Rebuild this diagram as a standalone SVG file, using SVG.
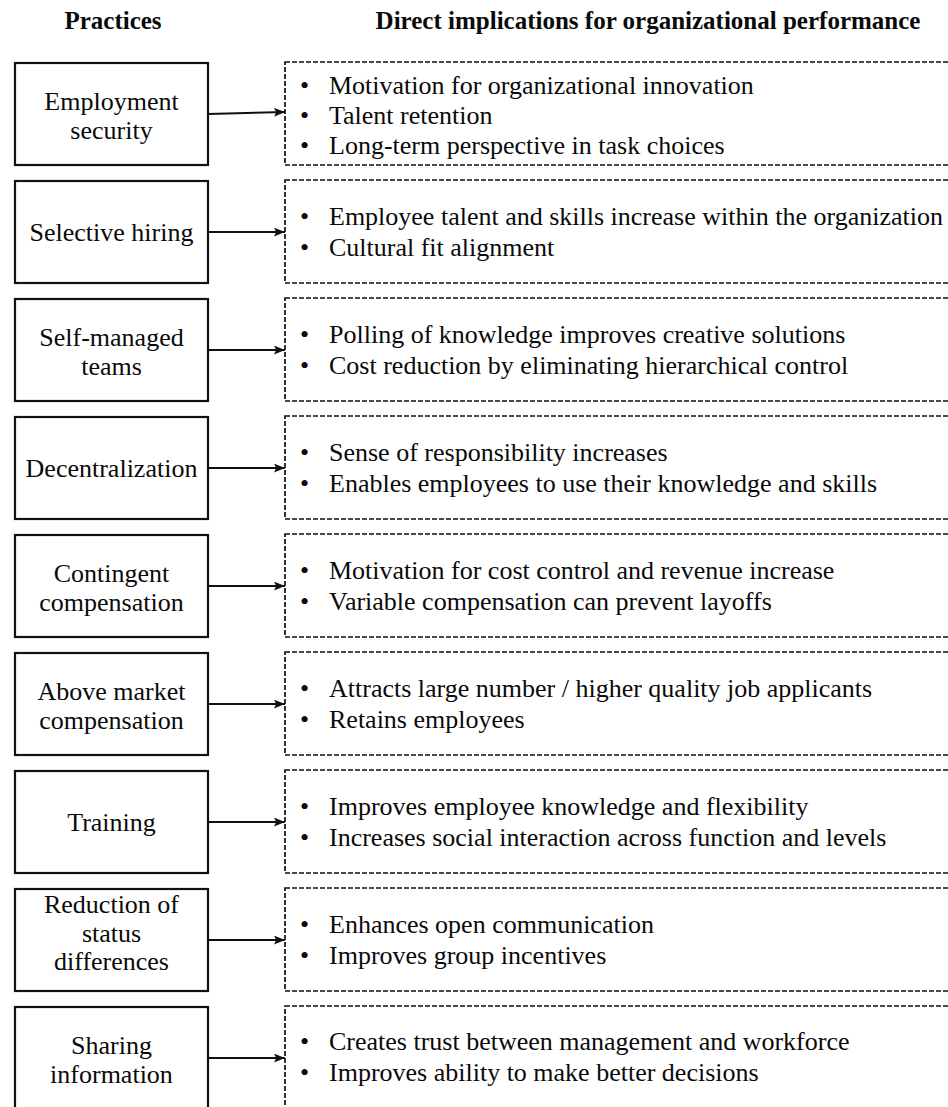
<svg xmlns="http://www.w3.org/2000/svg" width="948" height="1107" viewBox="0 0 948 1107">
  <style>
    text { font-family: "Liberation Serif", "Times New Roman", serif; fill: #0a0a0a; }
    .hdr { font-size: 25px; font-weight: bold; text-anchor: middle; }
    .lbl { font-size: 26px; text-anchor: middle; }
    .itm { font-size: 26px; }
    .box { fill: #fff; stroke: #111; stroke-width: 2.2; }
    .dsh { fill: none; stroke: #111; stroke-width: 1.7; stroke-dasharray: 5 2; }
    .con { stroke: #111; stroke-width: 2; fill: none; marker-end: url(#ah); }
  </style>
  <defs>
    <marker id="ah" viewBox="0 0 10 8" refX="10" refY="4" markerWidth="11" markerHeight="9" markerUnits="userSpaceOnUse" orient="auto">
      <path d="M0,0 L10,4 L0,8 L2,4 Z" fill="#111"/>
    </marker>
  </defs>
  <rect width="948" height="1107" fill="#fff"/>

  <g id="headers">
    <text class="hdr" x="113" y="29">Practices</text>
    <text class="hdr" x="648" y="29">Direct implications for organizational performance</text>
  </g>

  <!-- practice boxes on the left, implication lists on the right -->
  <g id="employment-security">
    <rect class="box" x="15" y="63" width="193" height="102"/>
    <text class="lbl" x="111.5" y="110">Employment</text>
    <text class="lbl" x="111.5" y="139">security</text>
    <rect class="dsh" x="285" y="62" width="700" height="103"/>
    <text class="itm" x="300" y="94">•</text><text class="itm" x="329" y="94">Motivation for organizational innovation</text>
    <text class="itm" x="300" y="124">•</text><text class="itm" x="329" y="124">Talent retention</text>
    <text class="itm" x="300" y="154">•</text><text class="itm" x="329" y="154">Long-term perspective in task choices</text>
  </g>

  <g id="selective-hiring">
    <rect class="box" x="15" y="181" width="193" height="102"/>
    <text class="lbl" x="111.5" y="241">Selective hiring</text>
    <rect class="dsh" x="285" y="180" width="700" height="103"/>
    <text class="itm" x="300" y="225">•</text><text class="itm" x="329" y="225">Employee talent and skills increase within the organization</text>
    <text class="itm" x="300" y="256">•</text><text class="itm" x="329" y="256">Cultural fit alignment</text>
  </g>

  <g id="self-managed-teams">
    <rect class="box" x="15" y="299" width="193" height="102"/>
    <text class="lbl" x="111.5" y="346">Self-managed</text>
    <text class="lbl" x="111.5" y="375">teams</text>
    <rect class="dsh" x="285" y="298" width="700" height="103"/>
    <text class="itm" x="300" y="343">•</text><text class="itm" x="329" y="343">Polling of knowledge improves creative solutions</text>
    <text class="itm" x="300" y="374">•</text><text class="itm" x="329" y="374">Cost reduction by eliminating hierarchical control</text>
  </g>

  <g id="decentralization">
    <rect class="box" x="15" y="417" width="193" height="102"/>
    <text class="lbl" x="111.5" y="477">Decentralization</text>
    <rect class="dsh" x="285" y="416" width="700" height="103"/>
    <text class="itm" x="300" y="461">•</text><text class="itm" x="329" y="461">Sense of responsibility increases</text>
    <text class="itm" x="300" y="492">•</text><text class="itm" x="329" y="492">Enables employees to use their knowledge and skills</text>
  </g>

  <g id="contingent-compensation">
    <rect class="box" x="15" y="535" width="193" height="102"/>
    <text class="lbl" x="111.5" y="582">Contingent</text>
    <text class="lbl" x="111.5" y="611">compensation</text>
    <rect class="dsh" x="285" y="534" width="700" height="103"/>
    <text class="itm" x="300" y="579">•</text><text class="itm" x="329" y="579">Motivation for cost control and revenue increase</text>
    <text class="itm" x="300" y="610">•</text><text class="itm" x="329" y="610">Variable compensation can prevent layoffs</text>
  </g>

  <g id="above-market-compensation">
    <rect class="box" x="15" y="653" width="193" height="102"/>
    <text class="lbl" x="111.5" y="700">Above market</text>
    <text class="lbl" x="111.5" y="729">compensation</text>
    <rect class="dsh" x="285" y="652" width="700" height="103"/>
    <text class="itm" x="300" y="697">•</text><text class="itm" x="329" y="697">Attracts large number / higher quality job applicants</text>
    <text class="itm" x="300" y="728">•</text><text class="itm" x="329" y="728">Retains employees</text>
  </g>

  <g id="training">
    <rect class="box" x="15" y="771" width="193" height="102"/>
    <text class="lbl" x="111.5" y="831">Training</text>
    <rect class="dsh" x="285" y="770" width="700" height="103"/>
    <text class="itm" x="300" y="815">•</text><text class="itm" x="329" y="815">Improves employee knowledge and flexibility</text>
    <text class="itm" x="300" y="846">•</text><text class="itm" x="329" y="846">Increases social interaction across function and levels</text>
  </g>

  <g id="reduction-of-status-differences">
    <rect class="box" x="15" y="889" width="193" height="102"/>
    <text class="lbl" x="111.5" y="913">Reduction of</text>
    <text class="lbl" x="111.5" y="942">status</text>
    <text class="lbl" x="111.5" y="970">differences</text>
    <rect class="dsh" x="285" y="888" width="700" height="103"/>
    <text class="itm" x="300" y="933">•</text><text class="itm" x="329" y="933">Enhances open communication</text>
    <text class="itm" x="300" y="964">•</text><text class="itm" x="329" y="964">Improves group incentives</text>
  </g>

  <g id="sharing-information">
    <rect class="box" x="15" y="1007" width="193" height="130"/>
    <text class="lbl" x="111.5" y="1054">Sharing</text>
    <text class="lbl" x="111.5" y="1083">information</text>
    <rect class="dsh" x="285" y="1006" width="700" height="130"/>
    <text class="itm" x="300" y="1050">•</text><text class="itm" x="329" y="1050">Creates trust between management and workforce</text>
    <text class="itm" x="300" y="1081">•</text><text class="itm" x="329" y="1081">Improves ability to make better decisions</text>
  </g>

  <g id="connectors">
    <line class="con" x1="208" y1="114" x2="285" y2="112"/>
    <line class="con" x1="208" y1="232" x2="285" y2="232"/>
    <line class="con" x1="208" y1="350" x2="285" y2="350"/>
    <line class="con" x1="208" y1="468" x2="285" y2="468"/>
    <line class="con" x1="208" y1="586" x2="285" y2="586"/>
    <line class="con" x1="208" y1="704" x2="285" y2="704"/>
    <line class="con" x1="208" y1="822" x2="285" y2="822"/>
    <line class="con" x1="208" y1="940" x2="285" y2="940"/>
    <line class="con" x1="208" y1="1058" x2="285" y2="1058"/>
  </g>
</svg>
